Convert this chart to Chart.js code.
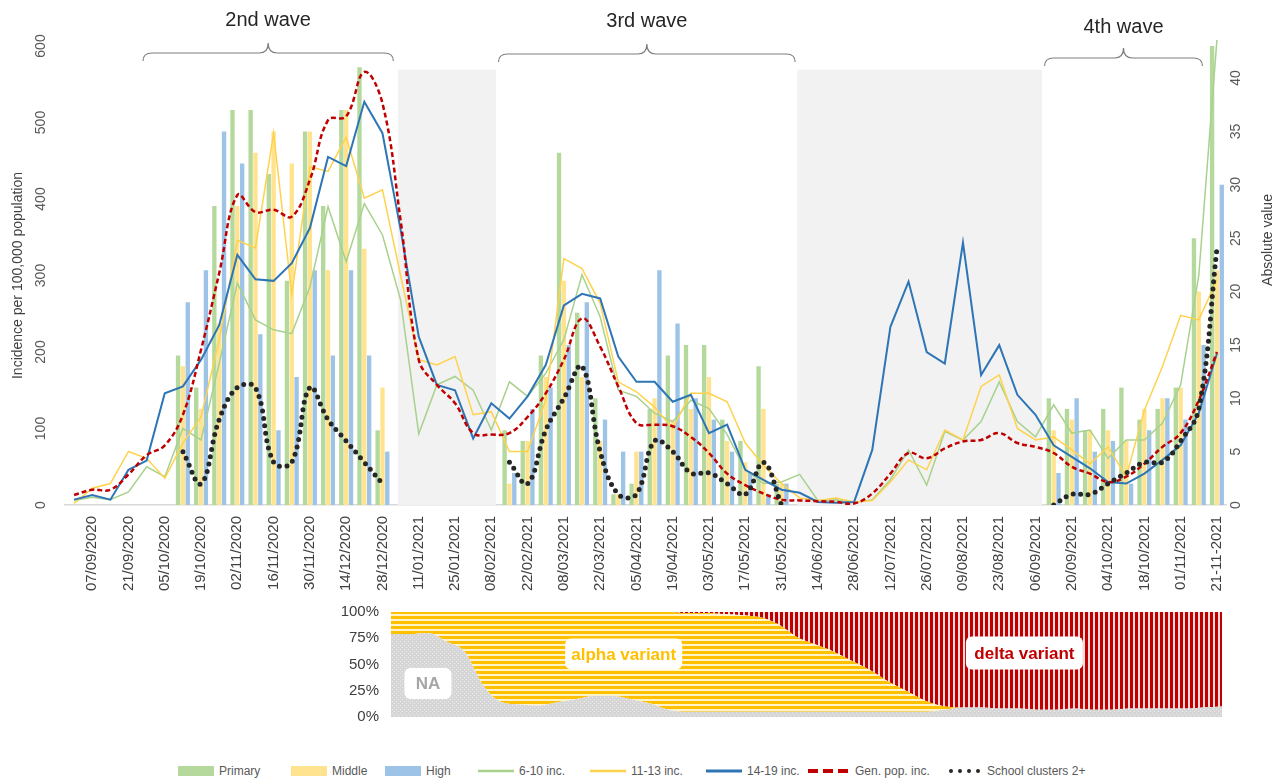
<!DOCTYPE html>
<html lang="en">
<head>
    <meta charset="UTF-8">
    <title>School clusters and incidence by wave</title>
    <script src="https://cdn.jsdelivr.net/npm/chart.js"></script>
    <style>
        body {
            margin: 0;
            background: #fff;
            font-family: 'Liberation Sans Narrow', 'Liberation Sans', Arial, sans-serif;
        }
        #wrap {
            position: relative;
            width: 1282px;
            height: 781px;
            overflow: hidden;
        }
        #mainChart { position: absolute; left: 0; top: 0; }
        #variantChart { position: absolute; left: 330px; top: 591px; }
        .legend {
            position: absolute;
            top: 763px;
            left: 0;
            width: 1282px;
            height: 16px;
            font-size: 12px;
            color: #595959;
        }
        .legend .item {
            position: absolute;
            top: 0;
            display: flex;
            align-items: center;
            white-space: nowrap;
            height: 16px;
        }
        .legend svg { margin-right: 5px; }
    </style>
</head>
<body>
<div id="wrap">
    <canvas id="mainChart" width="1282" height="600"></canvas>
    <canvas id="variantChart" width="900" height="147"></canvas>

    <div class="legend">
        <span class="item" style="left:178px"><svg width="36" height="10"><rect width="36" height="10" fill="#b5d99c"/></svg>Primary</span>
        <span class="item" style="left:291px"><svg width="36" height="10"><rect width="36" height="10" fill="#ffe38f"/></svg>Middle</span>
        <span class="item" style="left:385px"><svg width="36" height="10"><rect width="36" height="10" fill="#9dc3e6"/></svg>High</span>
        <span class="item" style="left:478px"><svg width="36" height="10"><line x1="0" y1="5" x2="36" y2="5" stroke="#a9d18e" stroke-width="2.5"/></svg>6-10 inc.</span>
        <span class="item" style="left:590px"><svg width="36" height="10"><line x1="0" y1="5" x2="36" y2="5" stroke="#ffd24d" stroke-width="2.5"/></svg>11-13 inc.</span>
        <span class="item" style="left:706px"><svg width="36" height="10"><line x1="0" y1="5" x2="36" y2="5" stroke="#2e75b6" stroke-width="3"/></svg>14-19 inc.</span>
        <span class="item" style="left:808px"><svg width="42" height="10"><line x1="0" y1="5" x2="42" y2="5" stroke="#c00000" stroke-width="4" stroke-dasharray="10 5"/></svg>Gen. pop. inc.</span>
        <span class="item" style="left:948px"><svg width="34" height="10"><line x1="3" y1="5" x2="32" y2="5" stroke="#262626" stroke-width="4" stroke-linecap="round" stroke-dasharray="0 9"/></svg>School clusters 2+</span>
    </div>
</div>

<script>
    // Semanas (lunes); se rotula una de cada dos
    const weeks = ['31/08/2020','07/09/2020','14/09/2020','21/09/2020','28/09/2020','05/10/2020','12/10/2020','19/10/2020','26/10/2020','02/11/2020','09/11/2020','16/11/2020','23/11/2020','30/11/2020','07/12/2020','14/12/2020','21/12/2020','28/12/2020','04/01/2021','11/01/2021','18/01/2021','25/01/2021','01/02/2021','08/02/2021','15/02/2021','22/02/2021','01/03/2021','08/03/2021','15/03/2021','22/03/2021','29/03/2021','05/04/2021','12/04/2021','19/04/2021','26/04/2021','03/05/2021','10/05/2021','17/05/2021','24/05/2021','31/05/2021','07/06/2021','14/06/2021','21/06/2021','28/06/2021','05/07/2021','12/07/2021','19/07/2021','26/07/2021','02/08/2021','09/08/2021','16/08/2021','23/08/2021','30/08/2021','06/09/2021','13/09/2021','20/09/2021','27/09/2021','04/10/2021','11/10/2021','18/10/2021','25/10/2021','01/11/2021','08/11/2021','21-11-2021'];

    // School clusters (absolute value, right axis)
    const primary = [null,null,null,null,null,null,14,11,28,37,37,31,21,35,28,37,41,7,null,null,null,null,null,null,7,6,14,33,18,10,1,2,9,14,15,15,8,6,13,2,null,null,null,null,null,null,null,null,null,null,null,null,null,null,10,9,7,9,11,8,9,11,25,43];
    const middle = [null,null,null,null,null,null,13,9,17,28,33,35,32,35,22,37,24,11,null,null,null,null,null,null,2,6,12,21,12,6,1,5,10,8,9,12,6,4,9,2,null,null,null,null,null,null,null,null,null,null,null,null,null,null,7,8,7,7,6,9,10,11,20,22];
    const high = [null,null,null,null,null,null,19,22,35,32,16,7,12,22,14,22,14,5,null,null,null,null,null,null,3,9,11,15,19,8,5,5,22,17,10,8,5,3,1,2,null,null,null,null,null,null,null,null,null,null,null,null,null,null,3,10,5,6,2,7,10,8,15,30];
    const clusters = [null,null,null,null,null,null,5,2,8,11,11,4,4,11,8,6,4,2,null,null,null,null,null,null,4,2,7,10,13,5,1,1,6,5,3,3,2,1,4,0,null,null,null,null,null,null,null,null,null,null,null,null,null,null,0,1,1,2,3,4,4,6,9,24];

    // Incidence per 100,000 (left axis)
    const inc610 = [6,10,7,17,50,37,100,85,185,290,242,229,224,285,390,318,394,353,268,93,157,168,150,98,161,142,172,216,301,246,150,142,120,109,137,126,92,46,28,30,40,6,7,3,7,33,72,26,96,85,109,161,109,89,131,94,98,61,85,85,107,157,300,608];
    const inc1113 = [2,22,28,70,61,35,81,115,216,346,336,486,275,442,436,481,401,412,300,190,183,194,118,122,70,70,137,322,309,264,161,148,128,100,146,146,135,81,52,28,9,6,9,4,6,30,59,46,98,85,155,170,100,85,89,72,54,76,37,124,181,248,242,294];
    const inc1419 = [7,13,7,46,58,146,155,190,235,327,295,293,316,362,455,443,527,486,360,220,157,150,87,133,113,142,183,261,276,270,194,161,161,135,144,94,105,46,33,20,16,4,3,4,72,233,292,200,185,343,170,209,144,118,78,63,48,30,28,41,59,78,120,198];
    const genPop = [13,20,20,40,65,78,118,203,303,405,383,386,377,425,503,508,566,525,372,190,157,133,94,92,94,115,146,190,244,207,155,107,105,103,89,68,41,26,15,7,6,5,4,2,15,41,68,61,74,83,85,94,81,76,68,50,41,30,37,54,76,94,137,200];

    // Olas (en índice de semana) y periodos entre olas
    const waveNames = ['2nd wave', '3rd wave', '4th wave'];
    const waveFrom = [3.8, 23.4, 53.5];
    const waveTo = [17.6, 39.75, 62.2];
    const interWaveFrom = [17.86, 39.86];
    const interWaveTo = [23.26, 53.36];

    // Variantes, % de muestras (semanas 04/01/2021 en adelante)
    const variantWeeks = weeks.slice(18);
    const naShare = [79,79,80,72,62,30,14,12,11,14,17,20,20,17,13,7,5,5,5,5,5,5,5,5,5,5,5,5,5,5,7,9,9,8,8,7,7,8,7,7,8,8,8,8,9,10];
    const alphaShare = [21,21,20,28,38,70,86,88,89,86,83,80,80,83,87,93,94,94,93,92,90,83,71,64,57,48,39,28,19,10,3,0,0,0,0,0,0,0,0,0,0,0,0,0,0,0];
    const deltaShare = [0,0,0,0,0,0,0,0,0,0,0,0,0,0,0,0,1,1,2,3,5,12,24,31,38,47,56,67,76,85,90,91,91,92,92,93,93,92,93,93,92,92,92,92,91,90];

    const narrow = "'Liberation Sans Narrow', 'Liberation Sans', Arial, sans-serif";
    Chart.defaults.font.family = narrow;

    // Sombreado entre olas, llaves y títulos de ola
    const wavesPlugin = {
        id: 'waves',
        beforeDatasetsDraw(chart) {
            const {ctx, scales: {x, y}} = chart;
            ctx.save();
            ctx.fillStyle = '#f2f2f2';
            const top = y.getPixelForValue(569);
            const bottom = y.getPixelForValue(0);
            interWaveFrom.forEach((a, k) => {
                const x0 = x.getPixelForValue(a);
                const x1 = x.getPixelForValue(interWaveTo[k]);
                ctx.fillRect(x0, top, x1 - x0, bottom - top);
            });
            ctx.restore();
        },
        afterDraw(chart) {
            const {ctx, scales: {x}} = chart;
            const drops = [0, 1, 5];
            ctx.save();
            waveNames.forEach((name, k) => {
                const x1 = x.getPixelForValue(waveFrom[k]);
                const x2 = x.getPixelForValue(waveTo[k]);
                const xm = (x1 + x2) / 2;
                const d = drops[k];
                const tip = 43 + d, mid = 53 + d, end = 61 + d, r = 9;
                ctx.strokeStyle = '#7f7f7f';
                ctx.lineWidth = 1.2;
                ctx.beginPath();
                ctx.moveTo(x1, end);
                ctx.quadraticCurveTo(x1, mid, x1 + r, mid);
                ctx.lineTo(xm - r, mid);
                ctx.quadraticCurveTo(xm, mid, xm, tip);
                ctx.quadraticCurveTo(xm, mid, xm + r, mid);
                ctx.lineTo(x2 - r, mid);
                ctx.quadraticCurveTo(x2, mid, x2, end);
                ctx.stroke();

                ctx.fillStyle = '#262626';
                ctx.font = '20px ' + narrow;
                ctx.textAlign = 'center';
                ctx.textBaseline = 'middle';
                ctx.fillText(name, xm, 20 + d * 1.4);
            });

            // título del eje derecho (leído de abajo hacia arriba)
            ctx.translate(1268, 240);
            ctx.rotate(-Math.PI / 2);
            ctx.fillStyle = '#404040';
            ctx.font = '14px ' + narrow;
            ctx.textAlign = 'center';
            ctx.textBaseline = 'middle';
            ctx.fillText('Absolute value', 0, 0);
            ctx.restore();
        }
    };

    const tickFont = {size: 14, family: narrow};

    new Chart(document.getElementById('mainChart'), {
        data: {
            labels: weeks,
            datasets: [
                {type: 'line', label: 'School clusters 2+', data: clusters, yAxisID: 'y1', borderColor: '#262626', borderWidth: 5, borderDash: [0, 7.5], borderCapStyle: 'round', pointRadius: 0, tension: 0.4, order: 1},
                {type: 'line', label: 'Gen. pop. inc.', data: genPop, yAxisID: 'y', borderColor: '#c00000', borderWidth: 2.5, borderDash: [5, 3], pointRadius: 0, tension: 0.4, order: 2},
                {type: 'line', label: '14-19 inc.', data: inc1419, yAxisID: 'y', borderColor: '#2e75b6', borderWidth: 2, pointRadius: 0, tension: 0, order: 3},
                {type: 'line', label: '11-13 inc.', data: inc1113, yAxisID: 'y', borderColor: '#ffd24d', borderWidth: 1.5, pointRadius: 0, tension: 0, order: 4},
                {type: 'line', label: '6-10 inc.', data: inc610, yAxisID: 'y', borderColor: '#a9d18e', borderWidth: 1.5, pointRadius: 0, tension: 0, clip: false, order: 5},
                {type: 'bar', label: 'Primary', data: primary, yAxisID: 'y1', backgroundColor: '#b5d99c', categoryPercentage: 0.8, barPercentage: 0.9, order: 6},
                {type: 'bar', label: 'Middle', data: middle, yAxisID: 'y1', backgroundColor: '#ffe38f', categoryPercentage: 0.8, barPercentage: 0.9, order: 7},
                {type: 'bar', label: 'High', data: high, yAxisID: 'y1', backgroundColor: '#9dc3e6', categoryPercentage: 0.8, barPercentage: 0.9, order: 8}
            ]
        },
        options: {
            responsive: false,
            animation: false,
            devicePixelRatio: 1,
            layout: {padding: {top: 46, right: 0, bottom: 0, left: 0}},
            plugins: {
                legend: {display: false},
                tooltip: {enabled: false}
            },
            scales: {
                x: {
                    offset: true,
                    grid: {display: false, drawTicks: false},
                    border: {color: '#d9d9d9', width: 1.5},
                    ticks: {
                        autoSkip: false,
                        minRotation: 90,
                        maxRotation: 90,
                        padding: 11,
                        color: '#404040',
                        font: {size: 15, family: narrow},
                        callback: (v, i) => i % 2 === 1 ? weeks[i] : ''
                    },
                    afterFit: s => { s.height = 95; }
                },
                y: {
                    position: 'left',
                    min: 0,
                    max: 600,
                    grid: {display: false, drawTicks: false},
                    border: {display: false},
                    ticks: {stepSize: 100, minRotation: 90, maxRotation: 90, crossAlign: 'center', padding: 12, color: '#595959', font: tickFont},
                    title: {display: true, text: 'Incidence per 100,000 population', color: '#404040', font: {size: 14, family: narrow}, padding: {top: 10, bottom: 0}},
                    afterFit: s => { s.width = 65; }
                },
                y1: {
                    position: 'right',
                    min: 0,
                    max: 43,
                    grid: {display: false, drawTicks: false},
                    border: {display: false},
                    ticks: {stepSize: 5, includeBounds: false, minRotation: 90, maxRotation: 90, crossAlign: 'center', padding: 2, color: '#595959', font: tickFont},
                    afterBuildTicks: s => { s.ticks = s.ticks.filter(t => t.value % 5 === 0); },
                    afterFit: s => { s.width = 56; }
                }
            }
        },
        plugins: [wavesPlugin]
    });

    // Tramas para el gráfico de variantes
    function makePattern(w, h, paint) {
        const c = document.createElement('canvas');
        c.width = w;
        c.height = h;
        const g = c.getContext('2d');
        paint(g);
        return g.createPattern(c, 'repeat');
    }
    const naPattern = makePattern(4, 4, g => {
        g.fillStyle = '#d6d6d6'; g.fillRect(0, 0, 4, 4);
        g.fillStyle = '#ececec'; g.fillRect(0, 0, 1, 1); g.fillRect(2, 2, 1, 1);
    });
    const alphaPattern = makePattern(5, 5, g => {
        g.fillStyle = '#fff3cc'; g.fillRect(0, 0, 5, 5);
        g.fillStyle = '#ffc000'; g.fillRect(0, 0, 5, 3);
    });
    const deltaPattern = makePattern(5, 5, g => {
        g.fillStyle = '#f6dcdc'; g.fillRect(0, 0, 5, 5);
        g.fillStyle = '#c00000'; g.fillRect(0, 0, 3, 5);
    });

    // Etiquetas de las zonas
    const tagsPlugin = {
        id: 'tags',
        afterDatasetsDraw(chart) {
            const {ctx, scales: {x, y}} = chart;
            const tags = [
                {text: 'NA', at: 2.0, pct: 32, w: 47, h: 31, color: '#a6a6a6'},
                {text: 'alpha variant', at: 12.6, pct: 60, w: 117, h: 31, color: '#ffc000'},
                {text: 'delta variant', at: 34.3, pct: 61, w: 117, h: 33, color: '#c00000'}
            ];
            ctx.save();
            tags.forEach(t => {
                const cx = x.getPixelForValue(t.at);
                const cy = y.getPixelForValue(t.pct);
                ctx.fillStyle = '#ffffff';
                ctx.beginPath();
                ctx.roundRect(cx - t.w / 2, cy - t.h / 2, t.w, t.h, 6);
                ctx.fill();
                ctx.fillStyle = t.color;
                ctx.font = 'bold 17px ' + narrow;
                ctx.textAlign = 'center';
                ctx.textBaseline = 'middle';
                ctx.fillText(t.text, cx, cy + 1);
            });
            ctx.restore();
        }
    };

    new Chart(document.getElementById('variantChart'), {
        type: 'line',
        data: {
            labels: variantWeeks,
            datasets: [
                {label: 'NA', data: naShare, fill: 'origin', backgroundColor: naPattern, borderWidth: 0, pointRadius: 0, cubicInterpolationMode: 'monotone'},
                {label: 'alpha variant', data: alphaShare, fill: '-1', backgroundColor: alphaPattern, borderWidth: 0, pointRadius: 0, cubicInterpolationMode: 'monotone'},
                {label: 'delta variant', data: deltaShare, fill: '-1', backgroundColor: deltaPattern, borderWidth: 0, pointRadius: 0, cubicInterpolationMode: 'monotone'}
            ]
        },
        options: {
            responsive: false,
            animation: false,
            devicePixelRatio: 1,
            layout: {padding: {top: 0, right: 8, bottom: 0, left: 0}},
            plugins: {
                legend: {display: false},
                tooltip: {enabled: false}
            },
            scales: {
                x: {display: false, offset: false},
                y: {
                    stacked: true,
                    min: 0,
                    max: 100,
                    grid: {display: false, drawTicks: false},
                    border: {display: false},
                    ticks: {stepSize: 25, padding: 12, color: '#404040', font: {size: 15, family: "'Liberation Sans', Arial, sans-serif"}, callback: v => v + '%'},
                    afterFit: s => { s.width = 61; }
                }
            }
        },
        plugins: [tagsPlugin]
    });
</script>
</body>
</html>
